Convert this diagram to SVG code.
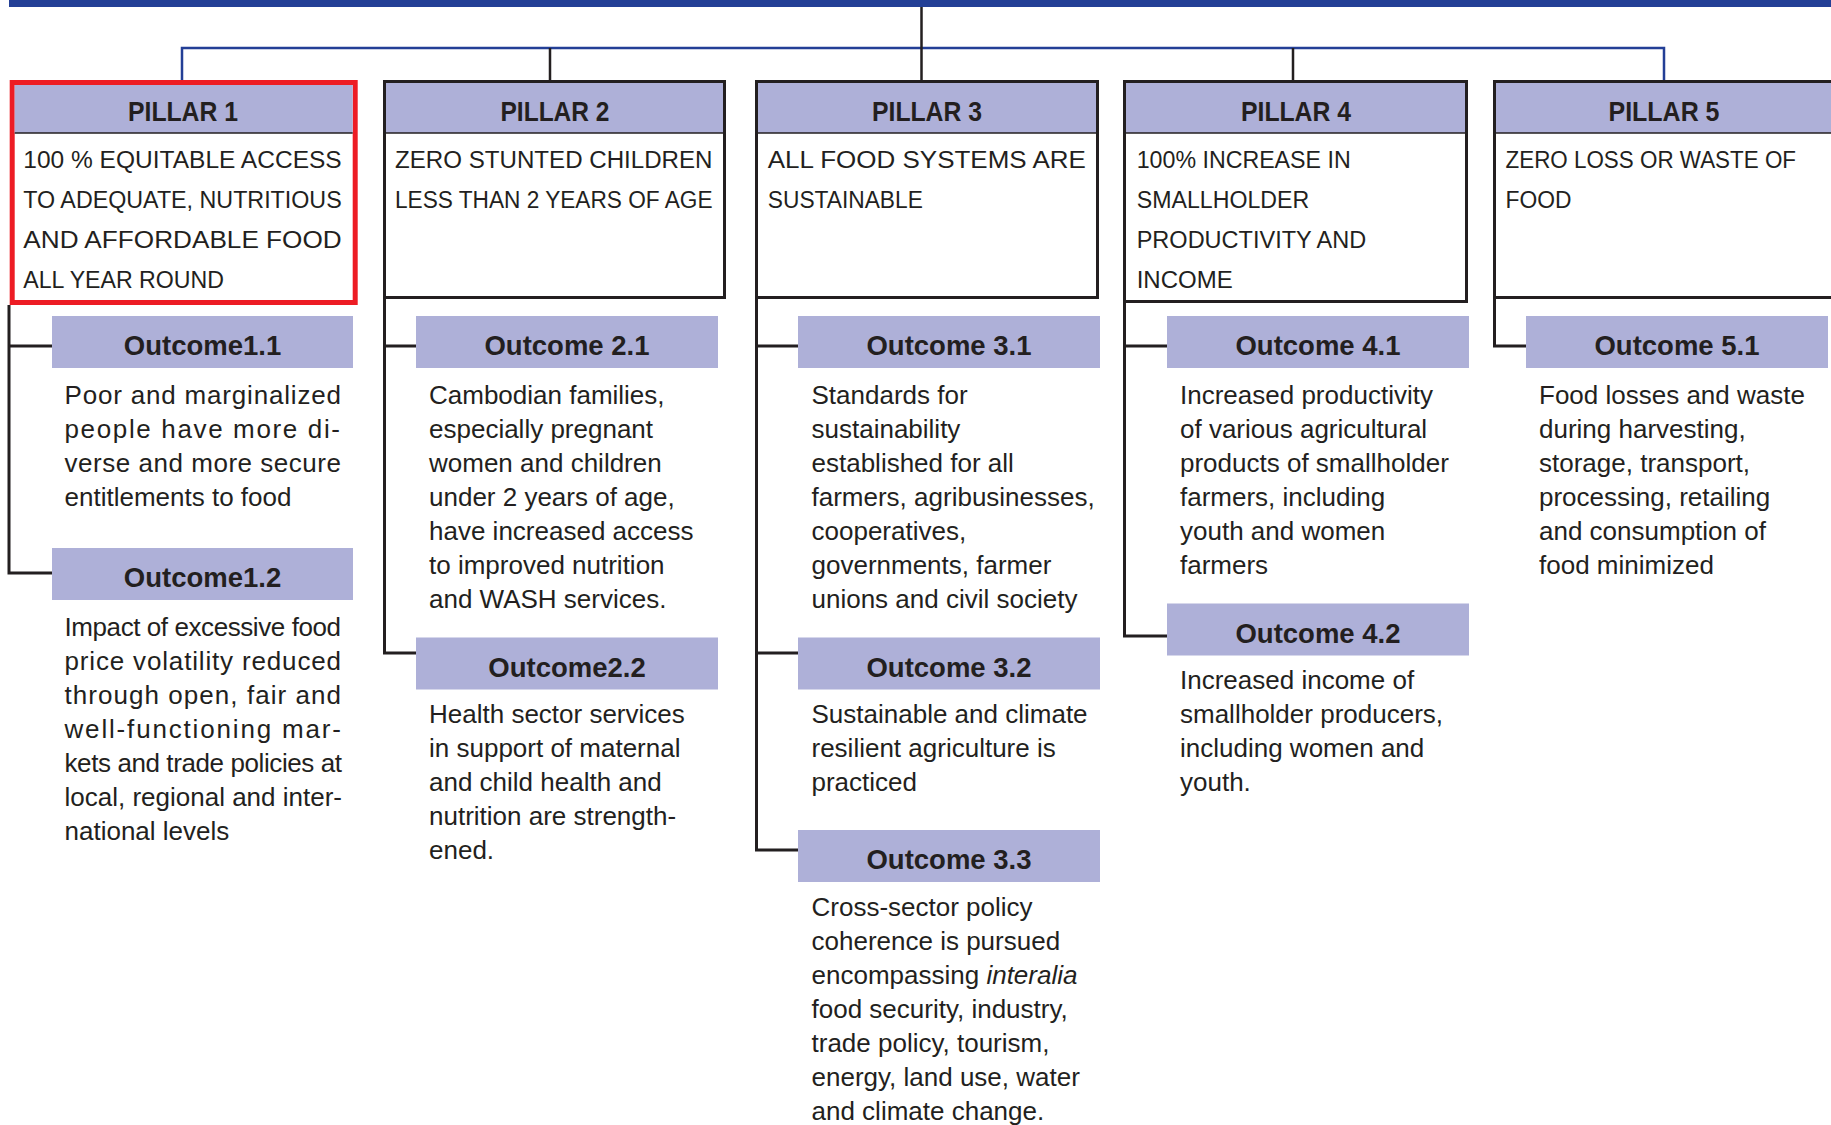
<svg xmlns="http://www.w3.org/2000/svg" width="1831" height="1125" viewBox="0 0 1831 1125">
<style>
text{font-family:"Liberation Sans",Arial,sans-serif;fill:#231f20}
.hdr{fill:#aeb0d8}
.box{fill:#fff;stroke:#231f20;stroke-width:3}
.red{fill:#fff;stroke:#ed1c24;stroke-width:5}
.sep{stroke:#231f20;stroke-width:1.5}
.pt{font-size:28px;font-weight:bold;text-anchor:middle}
.px{font-size:23.5px}
.ot{font-size:27.5px;font-weight:bold;text-anchor:middle}
.ox{font-size:26px}
.blk{stroke:#231f20;stroke-width:3;fill:none}
.blu{stroke:#233f96;stroke-width:2.5;fill:none}
.thin{stroke:#231f20;stroke-width:2.5;fill:none}
</style>
<rect x="9" y="0" width="1822" height="7" fill="#233f96"/>
<g id="connectors">
<path class="blu" d="M182 81V48H1664V81"/>
<path class="thin" d="M921.5 7V81M550 48V81M1293 48V81"/>
<path class="blk" d="M9 305V573H52M9 346H52"/>
<path class="blk" d="M384.5 298V653H416M384.5 346H416"/>
<path class="blk" d="M756.5 298V850H798M756.5 346H798M756.5 653H798"/>
<path class="blk" d="M1124.5 302V636H1167M1124.5 346H1167"/>
<path class="blk" d="M1494.5 298V346H1526"/>
</g>
<g id="pillar1">
<rect class="red" x="12.2" y="82.5" width="343" height="220"/>
<rect class="hdr" x="14.7" y="85" width="338" height="48"/>
<line class="sep" x1="14.7" y1="133" x2="352.7" y2="133"/>
<text class="pt" x="183" y="121" textLength="110" lengthAdjust="spacingAndGlyphs">PILLAR 1</text>
<text class="px" x="23.3" y="168" textLength="318.4" lengthAdjust="spacingAndGlyphs">100 % EQUITABLE ACCESS</text>
<text class="px" x="23.3" y="208" textLength="318.4" lengthAdjust="spacingAndGlyphs">TO ADEQUATE, NUTRITIOUS</text>
<text class="px" x="23.3" y="248" textLength="318.4" lengthAdjust="spacingAndGlyphs">AND AFFORDABLE FOOD</text>
<text class="px" x="23.3" y="288" textLength="200.7" lengthAdjust="spacingAndGlyphs">ALL YEAR ROUND</text>
</g>
<g id="pillar2">
<rect class="box" x="384.5" y="81.5" width="340" height="216"/>
<rect class="hdr" x="386" y="83" width="337" height="50"/>
<line class="sep" x1="386" y1="133" x2="723" y2="133"/>
<text class="pt" x="555" y="121" textLength="109" lengthAdjust="spacingAndGlyphs">PILLAR 2</text>
<text class="px" x="395" y="168" textLength="317.5" lengthAdjust="spacingAndGlyphs">ZERO STUNTED CHILDREN</text>
<text class="px" x="395" y="208" textLength="317.5" lengthAdjust="spacingAndGlyphs">LESS THAN 2 YEARS OF AGE</text>
</g>
<g id="pillar3">
<rect class="box" x="756.5" y="81.5" width="341" height="216"/>
<rect class="hdr" x="758" y="83" width="338" height="50"/>
<line class="sep" x1="758" y1="133" x2="1096" y2="133"/>
<text class="pt" x="927" y="121" textLength="110" lengthAdjust="spacingAndGlyphs">PILLAR 3</text>
<text class="px" x="767.8" y="168" textLength="318" lengthAdjust="spacingAndGlyphs">ALL FOOD SYSTEMS ARE</text>
<text class="px" x="767.8" y="208" textLength="155" lengthAdjust="spacingAndGlyphs">SUSTAINABLE</text>
</g>
<g id="pillar4">
<rect class="box" x="1124.5" y="81.5" width="342" height="220"/>
<rect class="hdr" x="1126" y="83" width="339" height="50"/>
<line class="sep" x1="1126" y1="133" x2="1465" y2="133"/>
<text class="pt" x="1296" y="121" textLength="110" lengthAdjust="spacingAndGlyphs">PILLAR 4</text>
<text class="px" x="1136.7" y="168" textLength="214" lengthAdjust="spacingAndGlyphs">100% INCREASE IN</text>
<text class="px" x="1136.7" y="208" textLength="172.5" lengthAdjust="spacingAndGlyphs">SMALLHOLDER</text>
<text class="px" x="1136.7" y="248" textLength="229.5" lengthAdjust="spacingAndGlyphs">PRODUCTIVITY AND</text>
<text class="px" x="1136.7" y="288" textLength="96" lengthAdjust="spacingAndGlyphs">INCOME</text>
</g>
<g id="pillar5">
<rect class="box" x="1494.5" y="81.5" width="345" height="216"/>
<rect class="hdr" x="1496" y="83" width="342" height="50"/>
<line class="sep" x1="1496" y1="133" x2="1838" y2="133"/>
<text class="pt" x="1664" y="121" textLength="111" lengthAdjust="spacingAndGlyphs">PILLAR 5</text>
<text class="px" x="1505.5" y="168" textLength="290.5" lengthAdjust="spacingAndGlyphs">ZERO LOSS OR WASTE OF</text>
<text class="px" x="1505.5" y="208" textLength="66" lengthAdjust="spacingAndGlyphs">FOOD</text>
</g>
<g id="outcome1-1">
<rect class="hdr" x="52" y="316" width="301" height="52"/>
<text class="ot" x="202.5" y="355">Outcome1.1</text>
<text class="ox" x="64.5" y="403.5" textLength="276.5">Poor and marginalized</text>
<text class="ox" x="64.5" y="437.5" textLength="275.5">people have more di-</text>
<text class="ox" x="64.5" y="471.5" textLength="276.5">verse and more secure</text>
<text class="ox" x="64.5" y="505.5">entitlements to food</text>
</g>
<g id="outcome1-2">
<rect class="hdr" x="52" y="548" width="301" height="52"/>
<text class="ot" x="202.5" y="587">Outcome1.2</text>
<text class="ox" x="64.5" y="635.5" textLength="276.5">Impact of excessive food</text>
<text class="ox" x="64.5" y="669.5" textLength="276.5">price volatility reduced</text>
<text class="ox" x="64.5" y="703.5" textLength="276.5">through open, fair and</text>
<text class="ox" x="64.5" y="737.5" textLength="276.5">well-functioning mar-</text>
<text class="ox" x="64.5" y="771.5" textLength="277.5">kets and trade policies at</text>
<text class="ox" x="64.5" y="805.5" textLength="277.5">local, regional and inter-</text>
<text class="ox" x="64.5" y="839.5">national levels</text>
</g>
<g id="outcome2-1">
<rect class="hdr" x="416" y="316" width="302" height="52"/>
<text class="ot" x="567" y="355">Outcome 2.1</text>
<text class="ox" x="429" y="403.5">Cambodian families,</text>
<text class="ox" x="429" y="437.5">especially pregnant</text>
<text class="ox" x="429" y="471.5">women and children</text>
<text class="ox" x="429" y="505.5">under 2 years of age,</text>
<text class="ox" x="429" y="539.5">have increased access</text>
<text class="ox" x="429" y="573.5">to improved nutrition</text>
<text class="ox" x="429" y="607.5">and WASH services.</text>
</g>
<g id="outcome2-2">
<rect class="hdr" x="416" y="637.5" width="302" height="52"/>
<text class="ot" x="567" y="676.5">Outcome2.2</text>
<text class="ox" x="429" y="723">Health sector services</text>
<text class="ox" x="429" y="757">in support of maternal</text>
<text class="ox" x="429" y="791">and child health and</text>
<text class="ox" x="429" y="825">nutrition are strength-</text>
<text class="ox" x="429" y="859">ened.</text>
</g>
<g id="outcome3-1">
<rect class="hdr" x="798" y="316" width="302" height="52"/>
<text class="ot" x="949" y="355">Outcome 3.1</text>
<text class="ox" x="811.5" y="403.5">Standards for</text>
<text class="ox" x="811.5" y="437.5">sustainability</text>
<text class="ox" x="811.5" y="471.5">established for all</text>
<text class="ox" x="811.5" y="505.5">farmers, agribusinesses,</text>
<text class="ox" x="811.5" y="539.5">cooperatives,</text>
<text class="ox" x="811.5" y="573.5">governments, farmer</text>
<text class="ox" x="811.5" y="607.5">unions and civil society</text>
</g>
<g id="outcome3-2">
<rect class="hdr" x="798" y="637.5" width="302" height="52"/>
<text class="ot" x="949" y="676.5">Outcome 3.2</text>
<text class="ox" x="811.5" y="723">Sustainable and climate</text>
<text class="ox" x="811.5" y="757">resilient agriculture is</text>
<text class="ox" x="811.5" y="791">practiced</text>
</g>
<g id="outcome3-3">
<rect class="hdr" x="798" y="830" width="302" height="52"/>
<text class="ot" x="949" y="869">Outcome 3.3</text>
<text class="ox" x="811.5" y="916">Cross-sector policy</text>
<text class="ox" x="811.5" y="950">coherence is pursued</text>
<text class="ox" x="811.5" y="984">encompassing <tspan font-style="italic">interalia</tspan></text>
<text class="ox" x="811.5" y="1018">food security, industry,</text>
<text class="ox" x="811.5" y="1052">trade policy, tourism,</text>
<text class="ox" x="811.5" y="1086">energy, land use, water</text>
<text class="ox" x="811.5" y="1120">and climate change.</text>
</g>
<g id="outcome4-1">
<rect class="hdr" x="1167" y="316" width="302" height="52"/>
<text class="ot" x="1318" y="355">Outcome 4.1</text>
<text class="ox" x="1180" y="403.5">Increased productivity</text>
<text class="ox" x="1180" y="437.5">of various agricultural</text>
<text class="ox" x="1180" y="471.5">products of smallholder</text>
<text class="ox" x="1180" y="505.5">farmers, including</text>
<text class="ox" x="1180" y="539.5">youth and women</text>
<text class="ox" x="1180" y="573.5">farmers</text>
</g>
<g id="outcome4-2">
<rect class="hdr" x="1167" y="603.5" width="302" height="52"/>
<text class="ot" x="1318" y="642.5">Outcome 4.2</text>
<text class="ox" x="1180" y="689">Increased income of</text>
<text class="ox" x="1180" y="723">smallholder producers,</text>
<text class="ox" x="1180" y="757">including women and</text>
<text class="ox" x="1180" y="791">youth.</text>
</g>
<g id="outcome5-1">
<rect class="hdr" x="1526" y="316" width="302" height="52"/>
<text class="ot" x="1677" y="355">Outcome 5.1</text>
<text class="ox" x="1539" y="403.5">Food losses and waste</text>
<text class="ox" x="1539" y="437.5">during harvesting,</text>
<text class="ox" x="1539" y="471.5">storage, transport,</text>
<text class="ox" x="1539" y="505.5">processing, retailing</text>
<text class="ox" x="1539" y="539.5">and consumption of</text>
<text class="ox" x="1539" y="573.5">food minimized</text>
</g>
</svg>
